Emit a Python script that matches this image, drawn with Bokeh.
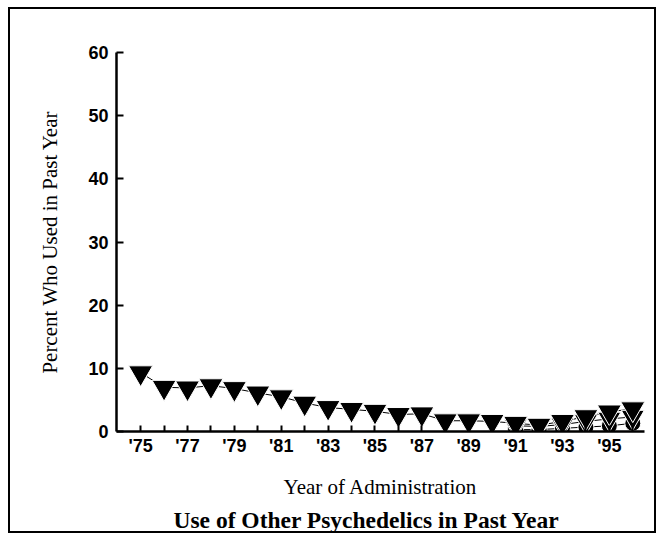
from bokeh.plotting import figure
from bokeh.models import Range1d, FixedTicker, Title
from bokeh.embed import file_html
from bokeh.resources import INLINE

# ---- data ----
years_12 = [1975, 1976, 1977, 1978, 1979, 1980, 1981, 1982, 1983, 1984, 1985,
            1986, 1987, 1988, 1989, 1990, 1991, 1992, 1993, 1994, 1995, 1996]
grade_12 = [9.3, 7.0, 6.9, 7.25, 6.8, 6.1, 5.5, 4.5, 3.8, 3.5, 3.2,
            2.7, 2.8, 1.7, 1.7, 1.6, 1.3, 1.0, 1.6, 2.35, 3.1, 3.6]
years_lower = [1991, 1992, 1993, 1994, 1995, 1996]
grade_10 = [0.9, 0.8, 1.1, 1.6, 2.0, 2.3]
grade_8 = [0.3, 0.3, 0.5, 0.7, 0.9, 1.3]

tick_years = list(range(1975, 1997))
tick_labels = ["'75", "", "'77", "", "'79", "", "'81", "", "'83", "", "'85", "",
               "'87", "", "'89", "", "'91", "", "'93", "", "'95", ""]
y_ticks = [0, 10, 20, 30, 40, 50, 60]

title_text = "Use of Other Psychedelics in Past Year"
x_label = "Year of Administration"
y_label = "Percent Who Used in Past Year"

p = figure(width=648, height=526, output_backend="svg", toolbar_location=None,
           x_range=Range1d(1973.97, 1996.5), y_range=Range1d(0, 60),
           min_border_left=106, min_border_right=14, min_border_top=43,
           min_border_bottom=101)
p.styles = {"border": "2px solid black", "margin": "7px 0 0 8px"}
p.outline_line_color = None
p.xgrid.visible = False
p.ygrid.visible = False
p.background_fill_color = "white"
p.border_fill_color = "white"

# axes
xa = p.xaxis[0]
xa.ticker = FixedTicker(ticks=tick_years)
xa.major_label_overrides = {y: l for y, l in zip(tick_years, tick_labels)}
xa.minor_tick_line_color = None
xa.major_tick_in = 6
xa.major_tick_out = 0
xa.major_tick_line_width = 2
xa.axis_line_width = 2.5
xa.axis_line_color = "black"
xa.major_tick_line_color = "black"
xa.major_label_text_font = "Liberation Sans"
xa.major_label_text_font_style = "bold"
xa.major_label_text_font_size = "18px"
xa.major_label_text_color = "black"
xa.major_label_standoff = 4
xa.axis_label = x_label
xa.axis_label_text_font = "Liberation Serif"
xa.axis_label_text_font_style = "normal"
xa.axis_label_text_font_size = "21px"
xa.axis_label_text_color = "black"
xa.axis_label_standoff = 16

ya = p.yaxis[0]
ya.ticker = FixedTicker(ticks=y_ticks)
ya.minor_tick_line_color = None
ya.major_tick_in = 7
ya.major_tick_out = 0
ya.major_tick_line_width = 2
ya.axis_line_width = 2.5
ya.axis_line_color = "black"
ya.major_tick_line_color = "black"
ya.major_label_text_font = "Liberation Sans"
ya.major_label_text_font_style = "bold"
ya.major_label_text_font_size = "18px"
ya.major_label_text_color = "black"
ya.major_label_standoff = 8
ya.axis_label = y_label
ya.axis_label_text_font = "Liberation Serif"
ya.axis_label_text_font_style = "normal"
ya.axis_label_text_font_size = "21px"
ya.axis_label_text_color = "black"
ya.axis_label_standoff = 23

# series
p.line(years_12, grade_12, line_color="black", line_width=1)
p.line(years_lower, grade_10, line_color="black", line_width=1)
p.line(years_lower, grade_8, line_color="black", line_width=1)
p.scatter(years_lower, grade_8, marker="circle", size=16,
          fill_color="black", line_color="white", line_width=1)
p.scatter(years_lower, grade_10, marker="inverted_triangle", size=23,
          fill_color="black", line_color="white", line_width=1)
p.scatter(years_12, grade_12, marker="inverted_triangle", size=24,
          fill_color="black", line_color="white", line_width=1)

t = Title(text=title_text, align="left", offset=57,
          text_font="Liberation Serif", text_font_style="bold",
          text_font_size="23.5px", text_color="black", standoff=6)
p.add_layout(t, "below")

open("out.html", "w").write(file_html(p, INLINE))
